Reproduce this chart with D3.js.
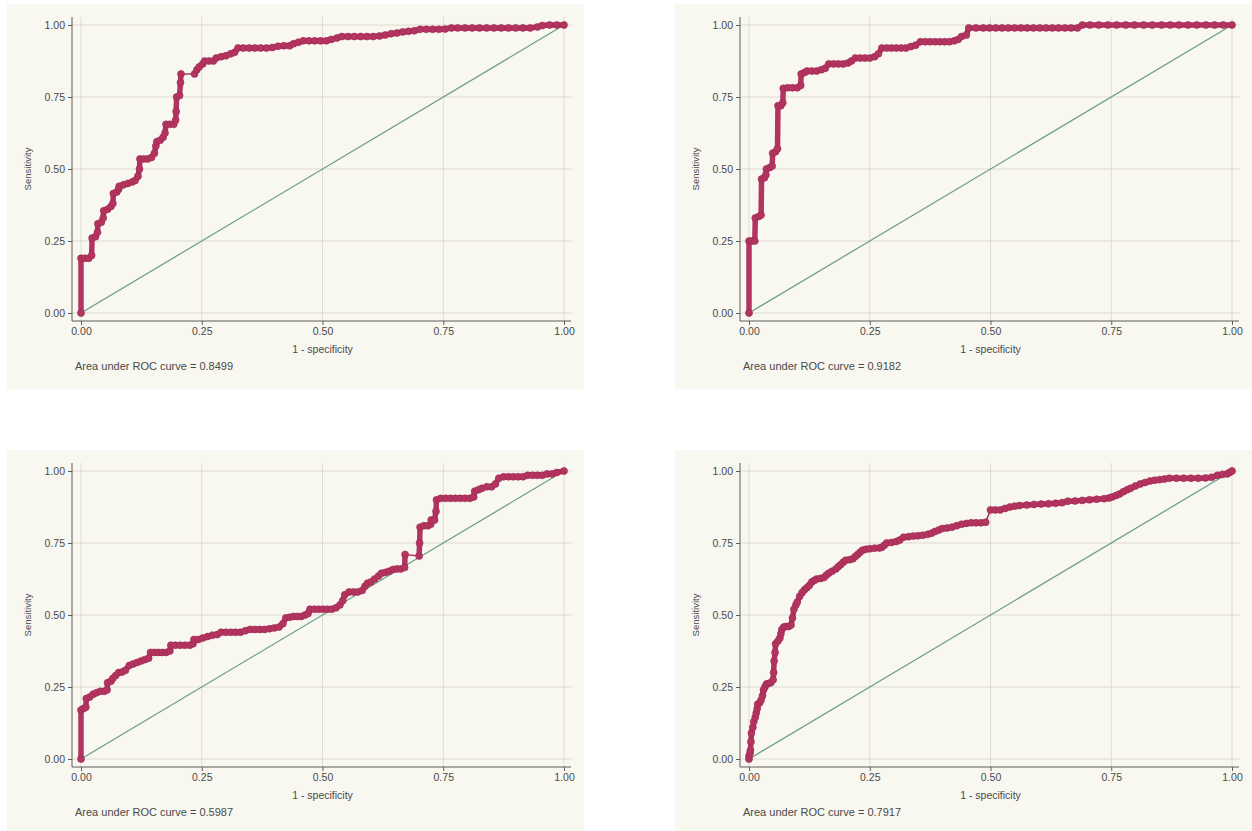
<!DOCTYPE html>
<html>
<head>
<meta charset="utf-8">
<script src="https://cdn.jsdelivr.net/npm/d3@7"></script>
<style>
  html, body { margin: 0; padding: 0; background: #ffffff; }
  svg { display: block; font-family: "Liberation Sans", Arial, sans-serif; }
</style>
</head>
<body>
<script>
// tick values shared by both axes
const tickValues = [0, 0.25, 0.5, 0.75, 1]
const aucLabels = ["0.8499", "0.9182", "0.5987", "0.7917"]

// ROC points [1 - specificity, sensitivity], split into runs of dense markers;
// runs are joined by a thin connector where no points lie in between
const roc1 = [
  [[0,0],[0,0.19],[0.008,0.19],[0.016,0.19],[0.022,0.2],[0.023,0.26],[0.03,0.265],[0.034,0.28],[0.035,0.31],[0.042,0.315],[0.046,0.33],[0.047,0.355],[0.055,0.36],[0.062,0.37],[0.066,0.38],[0.067,0.415],[0.074,0.42],[0.078,0.43],[0.079,0.44],[0.088,0.445],[0.097,0.45],[0.106,0.455],[0.112,0.46],[0.118,0.475],[0.121,0.5],[0.122,0.535],[0.13,0.535],[0.138,0.535],[0.146,0.54],[0.152,0.555],[0.155,0.58],[0.157,0.595],[0.164,0.6],[0.17,0.61],[0.174,0.625],[0.176,0.655],[0.184,0.655],[0.192,0.655],[0.196,0.67],[0.197,0.7],[0.198,0.75],[0.204,0.755],[0.206,0.8],[0.207,0.83]],
  [[0.235,0.83],[0.24,0.845],[0.245,0.855],[0.252,0.865],[0.256,0.875],[0.265,0.875],[0.274,0.875],[0.28,0.885],[0.29,0.89],[0.3,0.893],[0.31,0.9],[0.318,0.905],[0.325,0.92],[0.336,0.92],[0.348,0.92],[0.36,0.92],[0.372,0.92],[0.384,0.92],[0.396,0.922],[0.408,0.926],[0.42,0.928],[0.432,0.928],[0.44,0.935],[0.45,0.94],[0.46,0.945],[0.472,0.945],[0.484,0.945],[0.496,0.945],[0.508,0.945],[0.518,0.95],[0.53,0.955],[0.54,0.96],[0.553,0.96],[0.566,0.96],[0.579,0.96],[0.592,0.96],[0.605,0.96],[0.618,0.962],[0.63,0.965],[0.642,0.97],[0.654,0.972],[0.666,0.976],[0.678,0.978],[0.69,0.98],[0.702,0.985],[0.715,0.985],[0.728,0.985],[0.741,0.985],[0.754,0.986],[0.767,0.99],[0.78,0.99],[0.795,0.99],[0.81,0.99],[0.825,0.99],[0.84,0.99],[0.855,0.99],[0.87,0.99],[0.885,0.99],[0.9,0.99],[0.915,0.99],[0.93,0.99],[0.945,0.993],[0.955,0.998],[0.97,1],[0.985,1],[1,1]]
]

const roc2 = [
  [[0,0],[0,0.25],[0.006,0.25],[0.012,0.25],[0.013,0.33],[0.02,0.335],[0.025,0.34],[0.026,0.465],[0.032,0.47],[0.035,0.48],[0.036,0.5],[0.043,0.505],[0.048,0.51],[0.049,0.555],[0.055,0.56],[0.059,0.57],[0.06,0.72],[0.066,0.72],[0.07,0.73],[0.071,0.78],[0.08,0.782],[0.09,0.782],[0.1,0.782],[0.107,0.79],[0.108,0.83],[0.115,0.835],[0.12,0.84],[0.13,0.84],[0.14,0.84],[0.15,0.845],[0.158,0.85],[0.165,0.865],[0.175,0.865],[0.185,0.865],[0.195,0.865],[0.205,0.868],[0.212,0.875],[0.22,0.885],[0.23,0.885],[0.24,0.885],[0.25,0.885],[0.26,0.89],[0.268,0.9],[0.275,0.92],[0.285,0.92],[0.295,0.92],[0.305,0.92],[0.315,0.92],[0.325,0.92],[0.335,0.925],[0.345,0.93],[0.355,0.942],[0.365,0.942],[0.375,0.942],[0.385,0.942],[0.395,0.942],[0.405,0.942],[0.415,0.942],[0.425,0.945],[0.433,0.95],[0.44,0.96],[0.45,0.965],[0.455,0.99],[0.47,0.99],[0.485,0.99],[0.498,0.99],[0.511,0.99],[0.524,0.99],[0.537,0.99],[0.55,0.99],[0.563,0.99],[0.576,0.99],[0.589,0.99],[0.602,0.99],[0.615,0.99],[0.628,0.99],[0.641,0.99],[0.654,0.99],[0.667,0.99],[0.68,0.99],[0.69,1],[0.706,1],[0.724,1],[0.743,1],[0.761,1],[0.78,1],[0.798,1],[0.817,1],[0.835,1],[0.854,1],[0.872,1],[0.89,1],[0.909,1],[0.927,1],[0.946,1],[0.964,1],[0.982,1],[1,1]]
]

const roc3 = [
  [[0,0],[0,0.17],[0.005,0.175],[0.01,0.18],[0.011,0.21],[0.018,0.215],[0.025,0.225],[0.032,0.23],[0.04,0.235],[0.048,0.235],[0.054,0.24],[0.055,0.265],[0.062,0.27],[0.066,0.28],[0.072,0.29],[0.078,0.3],[0.085,0.302],[0.092,0.308],[0.1,0.325],[0.108,0.33],[0.116,0.335],[0.124,0.34],[0.132,0.345],[0.14,0.35],[0.144,0.37],[0.152,0.37],[0.16,0.37],[0.168,0.37],[0.176,0.37],[0.184,0.375],[0.186,0.395],[0.195,0.395],[0.205,0.395],[0.215,0.395],[0.225,0.395],[0.232,0.4],[0.234,0.415],[0.243,0.415],[0.252,0.42],[0.262,0.425],[0.272,0.43],[0.282,0.432],[0.29,0.44],[0.3,0.44],[0.31,0.44],[0.32,0.44],[0.33,0.44],[0.34,0.445],[0.35,0.45],[0.36,0.45],[0.37,0.45],[0.38,0.45],[0.39,0.452],[0.4,0.455],[0.41,0.458],[0.418,0.47],[0.424,0.49],[0.432,0.492],[0.44,0.495],[0.448,0.495],[0.456,0.495],[0.464,0.5],[0.47,0.505],[0.474,0.52],[0.483,0.52],[0.492,0.52],[0.501,0.52],[0.51,0.52],[0.519,0.52],[0.528,0.525],[0.536,0.535],[0.542,0.55],[0.546,0.57],[0.555,0.58],[0.564,0.58],[0.573,0.58],[0.582,0.585],[0.588,0.6],[0.593,0.61],[0.6,0.615],[0.608,0.625],[0.616,0.635],[0.622,0.645],[0.63,0.648],[0.638,0.652],[0.646,0.658],[0.654,0.66],[0.662,0.66],[0.67,0.665],[0.671,0.71]],
  [[0.7,0.705],[0.701,0.75],[0.702,0.805],[0.71,0.81],[0.718,0.81],[0.724,0.815],[0.725,0.83],[0.732,0.83],[0.735,0.86],[0.736,0.9],[0.745,0.905],[0.755,0.905],[0.765,0.905],[0.775,0.905],[0.785,0.905],[0.795,0.905],[0.805,0.905],[0.813,0.91],[0.815,0.93],[0.823,0.935],[0.83,0.94],[0.84,0.945],[0.85,0.945],[0.858,0.955],[0.865,0.975],[0.875,0.98],[0.885,0.98],[0.895,0.98],[0.905,0.98],[0.915,0.98],[0.925,0.985],[0.935,0.985],[0.945,0.985],[0.955,0.985],[0.965,0.99],[0.975,0.99],[0.985,0.995],[1,1]]
]

const roc4 = [
  [[0,0],[0,0.01],[0.002,0.02],[0.003,0.03],[0.004,0.06],[0.005,0.09],[0.008,0.11],[0.01,0.13],[0.013,0.145],[0.015,0.16],[0.017,0.175],[0.018,0.19],[0.022,0.195],[0.025,0.205],[0.028,0.22],[0.03,0.24],[0.033,0.25],[0.036,0.26],[0.04,0.262],[0.045,0.265],[0.05,0.275],[0.051,0.3],[0.052,0.34],[0.054,0.37],[0.055,0.4],[0.06,0.41],[0.064,0.42],[0.066,0.435],[0.068,0.45],[0.072,0.458],[0.076,0.46],[0.082,0.46],[0.087,0.465],[0.09,0.49],[0.093,0.52],[0.097,0.535],[0.1,0.545],[0.105,0.565],[0.11,0.578],[0.115,0.588],[0.12,0.595],[0.125,0.603],[0.13,0.615],[0.135,0.62],[0.14,0.625],[0.148,0.627],[0.155,0.63],[0.16,0.638],[0.165,0.645],[0.172,0.652],[0.18,0.66],[0.185,0.668],[0.19,0.675],[0.195,0.683],[0.2,0.69],[0.208,0.692],[0.215,0.695],[0.22,0.703],[0.225,0.71],[0.23,0.718],[0.235,0.725],[0.242,0.728],[0.25,0.73],[0.26,0.732],[0.27,0.733],[0.275,0.735],[0.28,0.742],[0.285,0.75],[0.295,0.752],[0.305,0.755],[0.312,0.76],[0.32,0.77],[0.33,0.772],[0.34,0.774],[0.35,0.775],[0.36,0.777],[0.37,0.78],[0.378,0.784],[0.385,0.79],[0.393,0.795],[0.4,0.8],[0.41,0.802],[0.42,0.805],[0.43,0.81],[0.44,0.815],[0.45,0.818],[0.46,0.82],[0.47,0.82],[0.48,0.82],[0.49,0.822]],
  [[0.5,0.865],[0.51,0.865],[0.52,0.865],[0.53,0.87],[0.54,0.875],[0.55,0.878],[0.56,0.88],[0.575,0.882],[0.59,0.884],[0.605,0.885],[0.62,0.886],[0.635,0.888],[0.648,0.89],[0.66,0.895],[0.675,0.896],[0.69,0.898],[0.705,0.9],[0.72,0.902],[0.735,0.904],[0.745,0.906],[0.752,0.91],[0.76,0.915],[0.767,0.92],[0.775,0.928],[0.783,0.935],[0.79,0.94],[0.8,0.948],[0.81,0.955],[0.82,0.96],[0.83,0.965],[0.84,0.968],[0.85,0.97],[0.86,0.972],[0.87,0.975],[0.885,0.975],[0.9,0.975],[0.915,0.975],[0.93,0.975],[0.945,0.976],[0.958,0.978],[0.97,0.985],[0.98,0.988],[0.99,0.99],[0.995,0.995],[1,1]]
]

const panelData = [roc1, roc2, roc3, roc4]

const width = 1252, height = 831
const panelOffsets = [[7, 4], [675, 4], [7, 450], [675, 450]]
const dims = {
  panelW: 577, panelH: 385,
  plotLeft: 74, plotRight: 557, plotTop: 21, plotBottom: 309,
  yAxisX: 65, xAxisY: 317
}
const colors = {
  bg: "#f8f7f0", grid: "#dddcd3", axis: "#5c5c5c", text: "#4a4a4a",
  curve: "#b3345f", curveDark: "#9e2a52", diag: "#6a9986"
}

const svg = d3.select("body").append("svg")
  .attr("width", width)
  .attr("height", height)

const drawPanel = (g, runs, auc) => {
  const {panelW, panelH, plotLeft, plotRight, plotTop, plotBottom, yAxisX, xAxisY} = dims
  const x = d3.scaleLinear().domain([0, 1]).range([plotLeft, plotRight])
  const y = d3.scaleLinear().domain([0, 1]).range([plotBottom, plotTop])

  g.append("rect")
    .attr("width", panelW)
    .attr("height", panelH)
    .attr("fill", colors.bg)

  // grid
  g.append("g").selectAll("line.gx")
    .data(tickValues)
    .join("line")
    .attr("x1", d => x(d)).attr("x2", d => x(d))
    .attr("y1", plotTop - 8).attr("y2", xAxisY)
    .attr("stroke", colors.grid)
    .attr("stroke-width", 1)
  g.append("g").selectAll("line.gy")
    .data(tickValues)
    .join("line")
    .attr("x1", yAxisX).attr("x2", plotRight + 8)
    .attr("y1", d => y(d)).attr("y2", d => y(d))
    .attr("stroke", colors.grid)
    .attr("stroke-width", 1)

  // axes
  const fmt = d3.format(".2f")
  g.append("g")
    .attr("transform", `translate(${yAxisX},0)`)
    .call(d3.axisLeft(y).tickValues(tickValues).tickSize(4).tickPadding(3).tickFormat(fmt))
    .call(a => a.select(".domain").remove())
  g.append("g")
    .attr("transform", `translate(0,${xAxisY})`)
    .call(d3.axisBottom(x).tickValues(tickValues).tickSize(4).tickPadding(3).tickFormat(fmt))
    .call(a => a.select(".domain").remove())
  g.selectAll(".tick line").attr("stroke", colors.axis)
  g.selectAll(".tick text")
    .attr("fill", colors.text)
    .style("font-size", "10.5px")
    .style("font-family", "Liberation Sans, Arial, sans-serif")

  g.append("line")
    .attr("x1", yAxisX).attr("x2", yAxisX)
    .attr("y1", plotTop - 8).attr("y2", xAxisY)
    .attr("stroke", colors.axis)
  g.append("line")
    .attr("x1", yAxisX).attr("x2", plotRight + 7)
    .attr("y1", xAxisY).attr("y2", xAxisY)
    .attr("stroke", colors.axis)

  // axis titles
  g.append("text")
    .attr("transform", `translate(21,${(plotTop + plotBottom) / 2}) rotate(-90)`)
    .attr("text-anchor", "middle")
    .attr("dy", "0.35em")
    .attr("fill", colors.text)
    .style("font-size", "9.5px")
    .text("Sensitivity")
  g.append("text")
    .attr("x", (plotLeft + plotRight) / 2)
    .attr("y", 345)
    .attr("text-anchor", "middle")
    .attr("dy", "0.35em")
    .attr("fill", colors.text)
    .style("font-size", "10.5px")
    .text("1 - specificity")
  g.append("text")
    .attr("x", 68)
    .attr("y", 362)
    .attr("dy", "0.35em")
    .attr("fill", colors.text)
    .style("font-size", "11px")
    .text(`Area under ROC curve = ${auc}`)

  // reference diagonal
  g.append("line")
    .attr("x1", x(0)).attr("y1", y(0))
    .attr("x2", x(1)).attr("y2", y(1))
    .attr("stroke", colors.diag)
    .attr("stroke-width", 1.2)

  const line = d3.line().x(d => x(d[0])).y(d => y(d[1]))

  // thin connector through every point
  g.append("path")
    .attr("fill", "none")
    .attr("stroke", colors.curve)
    .attr("stroke-width", 1.6)
    .attr("d", line(runs.flat()))

  // dense runs of markers
  runs.forEach(run => {
    g.append("path")
      .attr("fill", "none")
      .attr("stroke", colors.curve)
      .attr("stroke-width", 5.5)
      .attr("stroke-linejoin", "round")
      .attr("stroke-linecap", "round")
      .attr("d", line(run))
  })

  g.append("g").selectAll("circle")
    .data(runs.flat())
    .join("circle")
    .attr("cx", d => x(d[0]))
    .attr("cy", d => y(d[1]))
    .attr("r", 3.5)
    .attr("fill", colors.curve)
    .attr("stroke", colors.curveDark)
    .attr("stroke-width", 0.6)
}

panelData.forEach((runs, i) => {
  const [ox, oy] = panelOffsets[i]
  const g = svg.append("g").attr("transform", `translate(${ox},${oy})`)
  drawPanel(g, runs, aucLabels[i])
})
</script>
</body>
</html>
